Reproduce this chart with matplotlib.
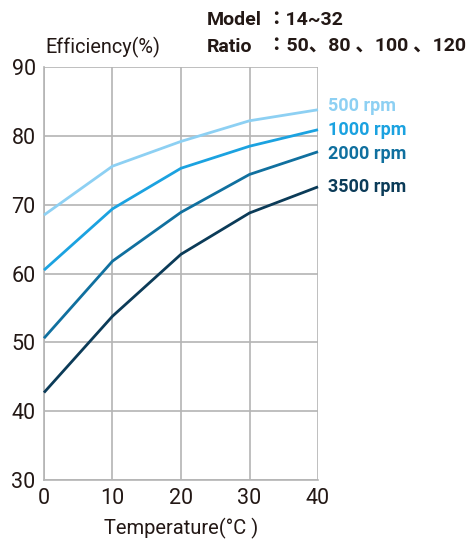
import matplotlib
matplotlib.use("Agg")
import matplotlib.pyplot as plt

temperature = [0, 10, 20, 30, 40]
eff_500 = [68.5, 75.6, 79.2, 82.2, 83.8]
eff_1000 = [60.5, 69.4, 75.3, 78.5, 80.9]
eff_2000 = [50.6, 61.8, 68.9, 74.4, 77.7]
eff_3500 = [42.7, 53.8, 62.8, 68.8, 72.6]
speed_labels = ["500 rpm", "1000 rpm", "2000 rpm", "3500 rpm"]
x_ticks = [0, 10, 20, 30, 40]
y_ticks = [30, 40, 50, 60, 70, 80, 90]

colors = ["#8dd0f3", "#1ba2e0", "#10709f", "#0b3b58"]
text_color = "#231815"
grid_color = "#b4b4b4"
plain = ["Roboto", "DejaVu Sans"]
bold = ["Roboto", "Noto Sans CJK JP", "DejaVu Sans"]

fig = plt.figure(figsize=(4.71, 5.41), dpi=100)
ax = fig.add_axes([0.0934, 0.1128, 0.5818, 0.7632])

series = [eff_500, eff_1000, eff_2000, eff_3500]
for values, color in zip(series, colors):
    ax.plot(temperature, values, color=color, lw=2.0, clip_on=False, zorder=3,
            solid_capstyle="butt")

# label positions (y in data units) next to the right edge
label_y = [84.4, 80.9, 77.4, 72.6]
for y, color, label in zip(label_y, colors, speed_labels):
    ax.text(41.5, y, label, color=color, fontsize=13, fontweight="bold",
            family=bold, va="center", ha="left", clip_on=False)

ax.set_xlim(0, 40)
ax.set_ylim(30, 90)
ax.set_xticks(x_ticks)
ax.set_yticks(y_ticks)
ax.grid(True, color=grid_color, lw=1.2)
ax.set_axisbelow(True)
for side in ["top", "right"]:
    ax.spines[side].set_visible(False)
for side in ["left", "bottom"]:
    ax.spines[side].set_color(grid_color)
    ax.spines[side].set_linewidth(1.2)
ax.tick_params(length=0, labelsize=15.5, labelcolor=text_color)
ax.tick_params(axis="x", pad=6)
ax.tick_params(axis="y", pad=6)
for lab in ax.get_xticklabels() + ax.get_yticklabels():
    lab.set_family(plain)

ax.set_xlabel("Temperature(°C )", fontsize=14.5, color=text_color, family=plain,
              labelpad=6)
fig.text(0.096, 0.913, "Efficiency(%)", fontsize=14.3, color=text_color, family=plain,
         ha="left", va="center")

fig.text(0.44, 0.963, "Model", fontsize=14, fontweight="bold", color=text_color,
         family=bold, ha="left", va="center")
fig.text(0.566, 0.963, "：14~32", fontsize=14, fontweight="bold", color=text_color,
         family=bold, ha="left", va="center")
fig.text(0.44, 0.913, "Ratio", fontsize=14, fontweight="bold", color=text_color,
         family=bold, ha="left", va="center")
fig.text(0.566, 0.913, "：50、80 、100 、120", fontsize=14, fontweight="bold",
         color=text_color, family=bold, ha="left", va="center")

fig.savefig("out.png", dpi=100)
